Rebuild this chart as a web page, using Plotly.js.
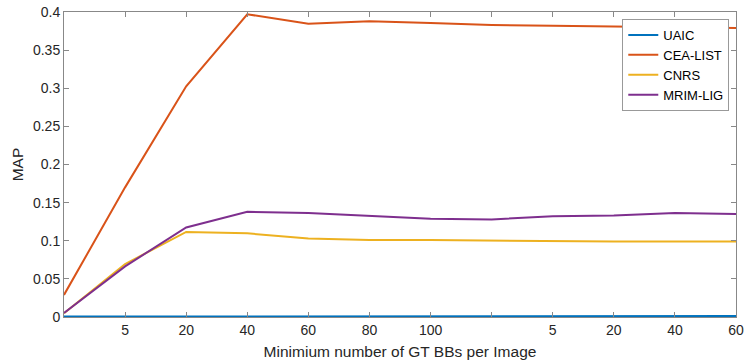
<!DOCTYPE html>
<html>
<head>
<meta charset="utf-8">
<script src="https://cdn.plot.ly/plotly-3.0.1.min.js"></script>
<style>html,body{margin:0;padding:0;background:#fff;}#chart{width:745px;height:364px;}</style>
</head>
<body>
<div id="chart"></div>
<script>
const xIdx = [0,1,2,3,4,5,6,7,8,9,10,11];
const tickPos = [1,2,3,4,5,6,7,8,9,10,11];
const tickLabels = ['5','20','40','60','80','100','','5','20','40','60'];
const uaic = [0.0005,0.0005,0.0005,0.001,0.0012,0.0012,0.0012,0.0012,0.0012,0.0012,0.0012,0.0012];
const ceaList = [0.029,0.170,0.3025,0.397,0.3847,0.388,0.3855,0.383,0.382,0.381,0.380,0.379];
const cnrs = [0.005,0.0695,0.1115,0.1097,0.1031,0.101,0.101,0.1001,0.0995,0.099,0.099,0.099];
const mrimLig = [0.0052,0.0664,0.1175,0.138,0.1364,0.1329,0.129,0.128,0.132,0.133,0.1364,0.135];
const yTicks = [0,0.05,0.1,0.15,0.2,0.25,0.3,0.35,0.4];
const yTickText = ['0','0.05','0.1','0.15','0.2','0.25','0.3','0.35','0.4'];

const names = ['UAIC','CEA-LIST','CNRS','MRIM-LIG'];
const series = [uaic, ceaList, cnrs, mrimLig];
const colors = ['#0072BD','#D95319','#EDB120','#7E2F8E'];

const traces = series.map((s,i)=>({
  x: xIdx, y: s, type:'scatter', mode:'lines', name: names[i],
  line:{color: colors[i], width: 2}
}));

const layout = {
  width:745, height:364,
  margin:{l:64, r:9, t:12, b:47},
  paper_bgcolor:'#fff', plot_bgcolor:'#fff',
  font:{family:'Arial, "Liberation Sans", sans-serif', color:'#262626', size:14},
  showlegend:true,
  legend:{x:0.99, y:0.977, xanchor:'right', yanchor:'top', bgcolor:'#fff',
    bordercolor:'#999', borderwidth:1, font:{size:13, color:'#000'},
    tracegroupgap:0, itemwidth:30},
  xaxis:{range:[0,11], tickmode:'array', tickvals:tickPos, ticktext:tickLabels,
    ticks:'inside', ticklen:5, tickcolor:'#888', showline:true, linecolor:'#888', linewidth:1,
    mirror:'ticks', showgrid:false, zeroline:false, automargin:false,
    tickfont:{size:14, color:'#262626'},
    title:{text:'Minimium number of GT BBs per Image', font:{size:15.5, color:'#262626'}, standoff:9}},
  yaxis:{range:[0,0.4], tickmode:'array', tickvals:yTicks, ticktext:yTickText,
    ticks:'inside', ticklen:5, tickcolor:'#888', showline:true, linecolor:'#888', linewidth:1,
    mirror:'ticks', showgrid:false, zeroline:false, automargin:false,
    tickfont:{size:14, color:'#262626'},
    title:{text:'MAP', font:{size:15.5, color:'#262626'}, standoff:5}}
};
Plotly.newPlot('chart', traces, layout, {displayModeBar:false, staticPlot:true});
</script>
</body>
</html>
